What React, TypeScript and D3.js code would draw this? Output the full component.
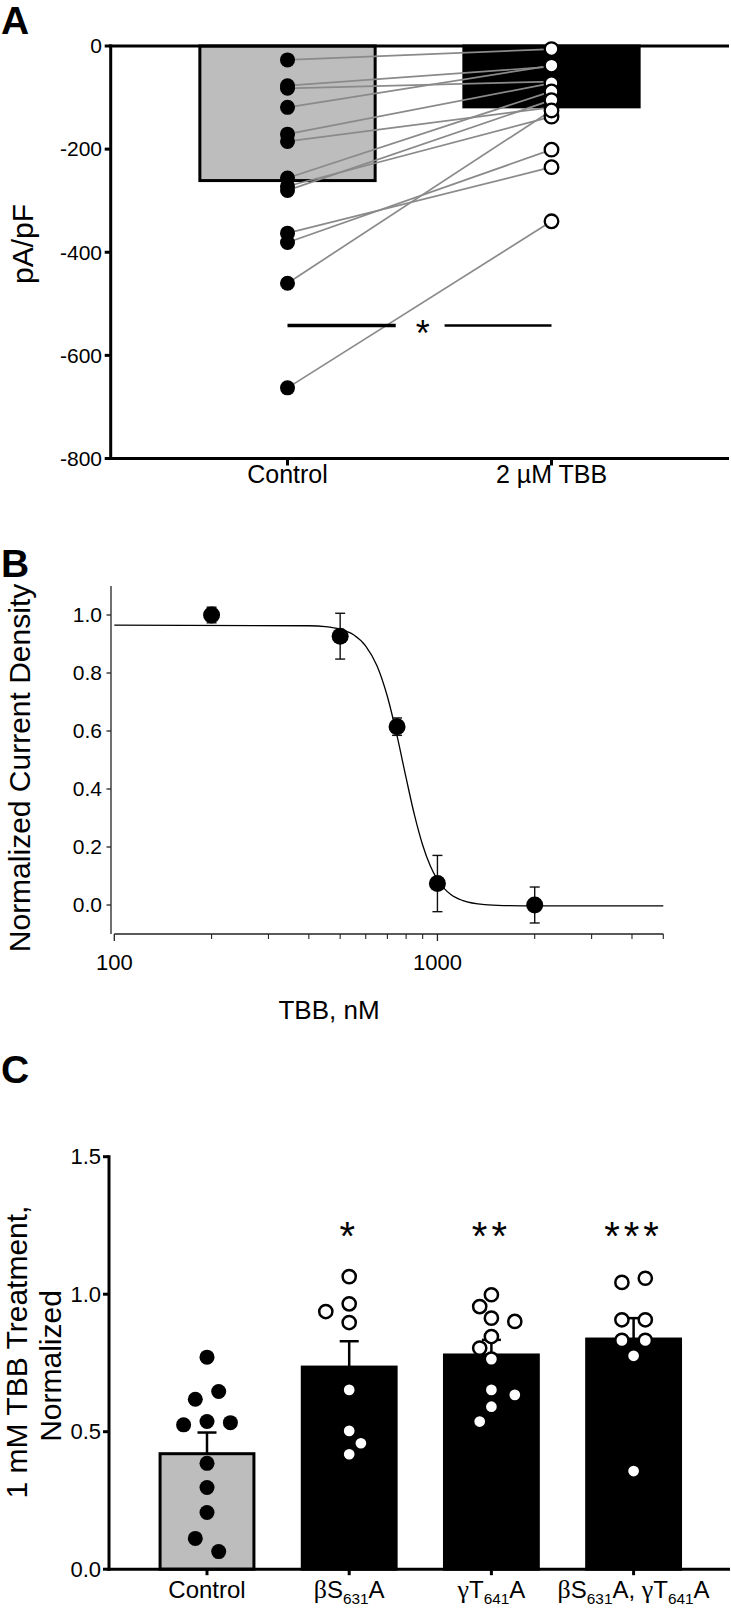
import React from 'react';
import * as d3 from 'd3';

// ---------- Panel A data ----------
const aCategories = ['Control', '2 µM TBB'];
const aMeans = [-261, -118];
const aControl = [-27, -77, -82, -119, -171, -185, -256, -272, -280, -363, -381, -460, -663];
const aTBB = [-6, -40, -69, -38, -72, -119, -88, -137, -105, -235, -201, -125, -340];
const aTicks = [0, -200, -400, -600, -800];
const aSigLevel = -542;

// ---------- Panel B data ----------
const bDoses = [200, 500, 750, 1000, 2000];
const bMeans = [1.0, 0.927, 0.615, 0.074, 0.0];
const bSEM = [0.027, 0.079, 0.03, 0.097, 0.062];
const bFitDose = [100, 400, 450, 500, 550, 600, 650, 700, 750, 800, 850, 900, 950, 1000, 1100, 1200, 1400, 1600, 2000, 5000];
const bFitValue = [0.965, 0.963, 0.96, 0.951, 0.932, 0.893, 0.825, 0.719, 0.583, 0.438, 0.308, 0.207, 0.135, 0.087, 0.036, 0.015, 0.001, -0.002, -0.003, -0.003];
const bYTicks = [0, 0.2, 0.4, 0.6, 0.8, 1.0];
const bXMajor = [100, 1000];
const bXMinor = [200, 300, 400, 500, 600, 700, 800, 900, 2000, 3000, 4000, 5000];

// ---------- Panel C data ----------
const cCategories = ['Control', 'βS631A', 'γT641A', 'βS631A, γT641A'];
const cMeans = [0.42, 0.735, 0.779, 0.837];
const cSEM = [0.077, 0.094, 0.055, 0.076];
const cControl = [0.771, 0.646, 0.618, 0.537, 0.533, 0.525, 0.385, 0.297, 0.206, 0.112, 0.064];
const cBetaS = [1.064, 0.965, 0.937, 0.897, 0.652, 0.503, 0.458, 0.418];
const cGammaT = [0.998, 0.955, 0.913, 0.901, 0.846, 0.804, 0.764, 0.652, 0.634, 0.591, 0.537];
const cDouble = [1.058, 1.043, 0.907, 0.907, 0.832, 0.832, 0.776, 0.357];
const cPoints = [cControl, cBetaS, cGammaT, cDouble];
const cSignif = ['', '*', '**', '***'];
const cYTicks = [0, 0.5, 1.0, 1.5];

const FONT = "'Liberation Sans', Arial, Helvetica, sans-serif";
const SERIF = "'Liberation Serif', 'Times New Roman', serif";

// simple deterministic swarm layout (pixel offsets)
function swarm(ys: number[], D: number, h: number): number[] {
  const order = ys.map((_, i) => i).sort((a, b) => ys[a] - ys[b]);
  const off = new Array(ys.length).fill(0);
  const placed: { x: number; y: number }[] = [];
  let lastSign = 1;
  for (const i of order) {
    const y = ys[i];
    const cands: number[] = [0];
    for (let m = 1; m <= 6; m++) {
      if (lastSign > 0) cands.push(-m, m);
      else cands.push(m, -m);
    }
    let chosen = 0;
    for (const k of cands) {
      const dx = k * h;
      const ok = placed.every((p) => Math.hypot(dx - p.x, y - p.y) >= D);
      if (ok) {
        chosen = k;
        break;
      }
    }
    if (chosen !== 0) lastSign = Math.sign(chosen);
    off[i] = chosen * h;
    placed.push({ x: chosen * h, y });
  }
  const clusters: number[][] = [];
  let cur: number[] = [];
  order.forEach((i, j) => {
    if (j === 0 || ys[i] - ys[order[j - 1]] >= D) {
      if (cur.length) clusters.push(cur);
      cur = [i];
    } else cur.push(i);
  });
  if (cur.length) clusters.push(cur);
  clusters.forEach((cl) => {
    if (cl.length === 2) {
      const [a, b] = cl;
      if (off[a] <= off[b]) {
        off[a] = -h;
        off[b] = h;
      } else {
        off[a] = h;
        off[b] = -h;
      }
    }
  });
  return off;
}

function CatLabel({ text, x, y, size }: { text: string; x: number; y: number; size: number }) {
  const tokens = text.split(/(\d+|[βγ])/).filter((t) => t !== '');
  let sub = false;
  return (
    <text x={x} y={y} textAnchor="middle" fontSize={size} fontFamily={FONT} fill="#000">
      {tokens.map((t, i) => {
        if (/^\d+$/.test(t)) {
          sub = true;
          return (
            <tspan key={i} fontSize={size * 0.64} dy={6}>
              {t}
            </tspan>
          );
        }
        const dy = sub ? -6 : 0;
        sub = false;
        if (t === 'β' || t === 'γ') {
          return (
            <tspan key={i} fontFamily={SERIF} fontSize={size * 1.08} dy={dy}>
              {t}
            </tspan>
          );
        }
        return (
          <tspan key={i} dy={dy}>
            {t}
          </tspan>
        );
      })}
    </text>
  );
}

export default function App() {
  // ===== Panel A =====
  const yA = d3.scaleLinear().domain([-800, 0]).range([458.5, 46]);
  const xA = d3.scaleBand<string>().domain(aCategories).range([155.5, 683.5]).paddingInner(0.336).paddingOuter(0.168);
  const cxA = (c: string) => (xA(c) as number) + xA.bandwidth() / 2;
  const axL = 110.7;
  const xCtl = cxA(aCategories[0]);
  const xTbb = cxA(aCategories[1]);
  const sigY = yA(aSigLevel);

  // ===== Panel B =====
  const xB = d3.scaleLog().domain([100, 5000]).range([114.3, 663.3]);
  const yB = d3.scaleLinear().domain([-0.1, 1.1]).range([934, 586]);
  const bAxisY = yB(-0.1);
  const fitLine = d3
    .line<number>()
    .x((_, i) => xB(bFitDose[i]))
    .y((d) => yB(d))
    .curve(d3.curveMonotoneX)(bFitValue) as string;

  // ===== Panel C =====
  const yC = d3.scaleLinear().domain([0, 1.5]).range([1569.2, 1156.7]);
  const xC = d3.scaleBand<string>().domain(cCategories).range([135.9, 704.7]).paddingInner(0.34).paddingOuter(0.17);
  const cxC = (c: string) => (xC(c) as number) + xC.bandwidth() / 2;

  return (
    <svg
      width={731}
      height={1608}
      viewBox="0 0 731 1608"
      style={{ position: 'absolute', left: 0, top: 0, background: '#fff' }}
      fontFamily={FONT}
    >
      <rect x={0} y={0} width={731} height={1608} fill="#fff" />

      {/* ================= PANEL A ================= */}
      <text x={1} y={34} fontSize={39} fontWeight="bold">
        A
      </text>
      {aCategories.map((c, i) => (
        <rect
          key={c}
          x={xA(c)}
          y={yA(0)}
          width={xA.bandwidth()}
          height={yA(aMeans[i]) - yA(0)}
          fill={i === 0 ? '#bdbdbd' : '#000'}
          stroke="#000"
          strokeWidth={3}
        />
      ))}
      <line x1={axL - 1.5} x2={729} y1={yA(0)} y2={yA(0)} stroke="#000" strokeWidth={3} />
      <line x1={axL} x2={axL} y1={yA(0) - 1.5} y2={yA(-800) + 1.5} stroke="#000" strokeWidth={3} />
      {aTicks.map((t) => (
        <g key={t}>
          <line x1={axL - 6} x2={axL} y1={yA(t)} y2={yA(t)} stroke="#000" strokeWidth={3} />
          <text x={102} y={yA(t)} dy="0.35em" textAnchor="end" fontSize={21}>
            {t}
          </text>
        </g>
      ))}
      <line x1={axL - 1.5} x2={729} y1={yA(-800)} y2={yA(-800)} stroke="#000" strokeWidth={3} />
      {aCategories.map((c) => (
        <g key={c}>
          <line x1={cxA(c)} x2={cxA(c)} y1={yA(-800)} y2={yA(-800) + 7} stroke="#000" strokeWidth={3} />
          <text x={cxA(c)} y={483} textAnchor="middle" fontSize={25}>
            {c}
          </text>
        </g>
      ))}
      <text transform={`translate(33,244) rotate(-90)`} textAnchor="middle" fontSize={30}>
        pA/pF
      </text>
      {aControl.map((v, i) => (
        <line key={i} x1={xCtl} y1={yA(v)} x2={xTbb} y2={yA(aTBB[i])} stroke="#8a8a8a" strokeWidth={1.7} />
      ))}
      {aControl.map((v, i) => (
        <circle key={'c' + i} cx={xCtl} cy={yA(v)} r={7.5} fill="#000" />
      ))}
      {aTBB.map((v, i) => (
        <circle key={'t' + i} cx={xTbb} cy={yA(v)} r={6.8} fill="#fff" stroke="#000" strokeWidth={2.3} />
      ))}
      <line x1={xCtl} x2={xCtl + (xTbb - xCtl) * 0.41} y1={sigY} y2={sigY} stroke="#000" strokeWidth={3.5} />
      <line x1={xCtl + (xTbb - xCtl) * 0.595} x2={xTbb} y1={sigY} y2={sigY} stroke="#000" strokeWidth={2.5} />
      <text x={xCtl + (xTbb - xCtl) * 0.512} y={sigY + 21} textAnchor="middle" fontSize={36}>
        *
      </text>

      {/* ================= PANEL B ================= */}
      <text x={1} y={577} fontSize={39} fontWeight="bold">
        B
      </text>
      <line x1={111} x2={111} y1={yB(1.1)} y2={bAxisY} stroke="#222" strokeWidth={1.3} />
      {bYTicks.map((t) => (
        <g key={t}>
          <line x1={106.5} x2={111} y1={yB(t)} y2={yB(t)} stroke="#222" strokeWidth={1.3} />
          <text x={102} y={yB(t)} dy="0.35em" textAnchor="end" fontSize={21}>
            {t.toFixed(1)}
          </text>
        </g>
      ))}
      <line x1={xB(100)} x2={xB(5000)} y1={bAxisY} y2={bAxisY} stroke="#222" strokeWidth={1.3} />
      {bXMajor.map((t) => (
        <g key={t}>
          <line x1={xB(t)} x2={xB(t)} y1={bAxisY} y2={bAxisY + 7} stroke="#222" strokeWidth={1.3} />
          <text x={xB(t)} y={bAxisY + 36} textAnchor="middle" fontSize={22}>
            {t}
          </text>
        </g>
      ))}
      {bXMinor.map((t) => (
        <line key={t} x1={xB(t)} x2={xB(t)} y1={bAxisY} y2={bAxisY + 5} stroke="#222" strokeWidth={1.1} />
      ))}
      <text x={329} y={1019} textAnchor="middle" fontSize={26}>
        TBB, nM
      </text>
      <text transform={`translate(30,768) rotate(-90)`} textAnchor="middle" fontSize={30}>
        Normalized Current Density
      </text>
      <path d={fitLine} fill="none" stroke="#000" strokeWidth={1.3} />
      {bDoses.map((d, i) => (
        <g key={d}>
          <line x1={xB(d)} x2={xB(d)} y1={yB(bMeans[i] + bSEM[i])} y2={yB(bMeans[i] - bSEM[i])} stroke="#111" strokeWidth={1.4} />
          <line x1={xB(d) - 5} x2={xB(d) + 5} y1={yB(bMeans[i] + bSEM[i])} y2={yB(bMeans[i] + bSEM[i])} stroke="#111" strokeWidth={1.4} />
          <line x1={xB(d) - 5} x2={xB(d) + 5} y1={yB(bMeans[i] - bSEM[i])} y2={yB(bMeans[i] - bSEM[i])} stroke="#111" strokeWidth={1.4} />
          <circle cx={xB(d)} cy={yB(bMeans[i])} r={8.5} fill="#000" />
        </g>
      ))}

      {/* ================= PANEL C ================= */}
      <text x={1} y={1083} fontSize={39} fontWeight="bold">
        C
      </text>
      {cCategories.map((c, i) => (
        <g key={c}>
          <line x1={cxC(c)} x2={cxC(c)} y1={yC(cMeans[i])} y2={yC(cMeans[i] + cSEM[i])} stroke="#000" strokeWidth={2.5} />
          <line
            x1={cxC(c) - 9.5}
            x2={cxC(c) + 9.5}
            y1={yC(cMeans[i] + cSEM[i])}
            y2={yC(cMeans[i] + cSEM[i])}
            stroke="#000"
            strokeWidth={2.5}
          />
          <rect
            x={xC(c)}
            y={yC(cMeans[i])}
            width={xC.bandwidth()}
            height={yC(0) - yC(cMeans[i])}
            fill={i === 0 ? '#bdbdbd' : '#000'}
            stroke="#000"
            strokeWidth={3}
          />
        </g>
      ))}
      {cCategories.map((c, gi) => {
        const ys = cPoints[gi].map((v) => yC(v));
        const offs = swarm(ys, 15.2, 11.7);
        return (
          <g key={'p' + c}>
            {ys.map((y, j) =>
              gi === 0 ? (
                <circle key={j} cx={cxC(c) + offs[j]} cy={y} r={7.5} fill="#000" />
              ) : (
                <circle key={j} cx={cxC(c) + offs[j]} cy={y} r={6.6} fill="#fff" stroke="#000" strokeWidth={2.5} />
              )
            )}
          </g>
        );
      })}
      {cCategories.map((c, i) => (
        <text key={'s' + c} x={cxC(c)} y={1250} textAnchor="middle" fontSize={40} letterSpacing={4}>
          {cSignif[i]}
        </text>
      ))}
      <line x1={109} x2={109} y1={yC(1.5) - 1.5} y2={yC(0) + 1.5} stroke="#000" strokeWidth={3} />
      {cYTicks.map((t) => (
        <g key={t}>
          <line x1={103} x2={109} y1={yC(t)} y2={yC(t)} stroke="#000" strokeWidth={3} />
          <text x={101} y={yC(t)} dy="0.35em" textAnchor="end" fontSize={22}>
            {t.toFixed(1)}
          </text>
        </g>
      ))}
      <line x1={107.5} x2={730} y1={yC(0)} y2={yC(0)} stroke="#000" strokeWidth={3} />
      {cCategories.map((c) => (
        <g key={'x' + c}>
          <line x1={cxC(c)} x2={cxC(c)} y1={yC(0)} y2={yC(0) + 6} stroke="#000" strokeWidth={3} />
          <CatLabel text={c} x={cxC(c)} y={1598} size={24} />
        </g>
      ))}
      <text transform={`translate(27,1352) rotate(-90)`} textAnchor="middle" fontSize={30}>
        1 mM TBB Treatment,
      </text>
      <text transform={`translate(61,1366) rotate(-90)`} textAnchor="middle" fontSize={30}>
        Normalized
      </text>
    </svg>
  );
}
